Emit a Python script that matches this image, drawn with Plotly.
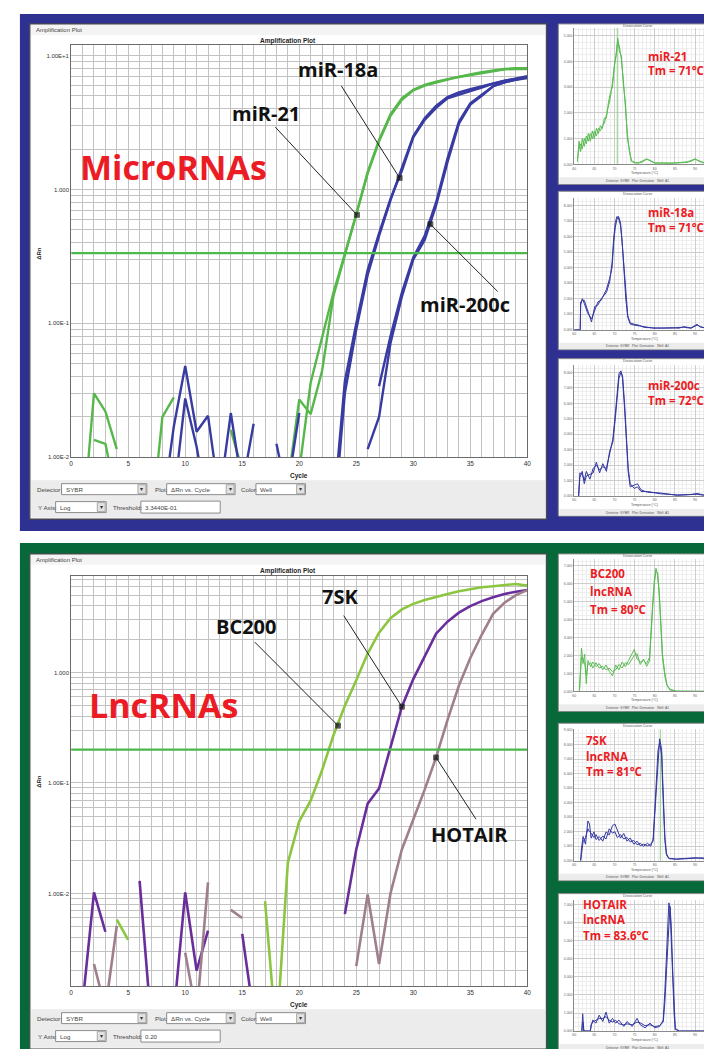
import plotly.graph_objects as go

W, H = 712, 1049
def px(x): return x / W
def py(y): return 1 - y / H

N = None
cycles = list(range(1, 41))

# ---------------- MicroRNA amplification data (delta Rn, log scale) ----------------
mir21_w1 = [0.003, 0.030, 0.022, 0.0115, N, N, 0.003, 0.020, 0.028, N,
            N, N, N, 0.016, 0.008, N, N, N, 0.0063, 0.027,
            0.021, 0.044, 0.16, 0.32, 0.63, 1.32, 2.29, 3.55, 4.68, 5.50,
            5.96, 6.31, 6.61, 6.92, 7.16, 7.41, 7.67, 7.89, 7.94, 7.94]
mir21_w2 = [N, 0.0135, 0.0126, 0.005, N, N, N, N, N, N,
            N, N, N, N, N, N, N, N, 0.0032, 0.0079,
            0.036, 0.079, 0.17, 0.33, 0.65, 1.35, 2.34, 3.63, 4.79, 5.56,
            6.03, 6.38, 6.68, 7.00, 7.24, 7.50, 7.76, 7.94, 8.04, 8.04]
mir18a_w1 = [N, N, N, N, N, N, N, 0.004, 0.017, 0.048,
             0.0155, 0.0204, 0.005, 0.0214, 0.006, 0.0178, N, N, N, N,
             N, N, 0.004, 0.037, 0.10, 0.25, 0.47, 0.85, 1.38, 2.45,
             3.31, 4.07, 4.79, 5.13, 5.43, 5.75, 6.17, 6.46, 6.76, 7.0]
mir18a_w2 = [N, N, N, N, N, N, N, N, 0.005, 0.0275,
             0.012, 0.004, N, N, N, N, N, N, N, N,
             N, N, 0.003, 0.03, 0.09, 0.23, 0.45, 0.83, 1.45, 2.5,
             3.4, 4.2, 4.9, 5.3, 5.6, 5.9, 6.2, 6.5, 6.7, 6.9]
mir200c_w1 = [N, N, N, N, N, N, N, N, N, N,
              N, N, N, N, N, N, N, 0.0126, 0.005, N,
              N, N, N, N, N, 0.0115, 0.02, 0.071, 0.158, 0.30,
              0.42, 0.76, 1.6, 3.1, 4.3, 5.0, 5.9, 6.3, 6.6, 6.8]
mir200c_w2 = [N, N, N, N, N, N, N, N, N, N,
              N, N, N, N, N, N, N, N, 0.006, 0.0214,
              N, N, N, N, N, N, 0.034, 0.08, 0.17, 0.31,
              0.45, 0.80, 1.7, 3.2, 4.4, 5.1, 5.9, 6.3, 6.6, 6.9]
threshold_mirna = 0.3344

# ---------------- LncRNA amplification data ----------------
bc200 = [N, N, N, 0.0058, 0.0038, N, N, N, N, N,
         N, N, N, N, N, N, 0.0085, 0.0005, 0.019, 0.045,
         0.069, 0.13, 0.27, 0.50, 0.85, 1.48, 2.29, 3.09, 3.72, 4.17,
         4.52, 4.84, 5.13, 5.43, 5.69, 5.89, 6.03, 6.17, 6.31, 6.10]
sk7 = [0.001, 0.0102, 0.0045, N, N, 0.013, 0.0007, N, 0.0008, 0.0102,
       0.002, 0.0046, N, N, 0.0043, 0.0008, N, N, N, N,
       N, N, N, 0.0065, 0.025, 0.065, 0.089, 0.21, 0.49, 0.87,
       1.41, 2.24, 2.88, 3.47, 3.98, 4.42, 4.79, 5.13, 5.37, 5.56]
hotair = [N, 0.0023, 0.0009, 0.0051, N, N, N, N, N, 0.0029,
          0.0008, 0.0126, N, 0.0071, 0.006, N, N, N, N, N,
          N, N, N, N, 0.0022, 0.0098, 0.0023, 0.01, 0.025, 0.046,
          0.087, 0.17, 0.37, 0.76, 1.35, 2.19, 3.39, 4.27, 5.01, 5.56]
threshold_lnc = 0.20

# leader lines: [label end, curve point]
lead_mir21 = ([17.9, 25.06], [2.92, 0.646])
lead_mir18a = ([23.7, 28.8], [5.92, 1.22])
lead_mir200c = ([37.4, 31.5], [0.173, 0.55])
lead_bc200 = ([16.1, 23.4], [1.88, 0.33])
lead_7sk = ([23.9, 29.0], [3.27, 0.49])
lead_hotair = ([35.5, 32.0], [0.047, 0.17])

# ---------------- melt (derivative) curves ----------------
t_mir21 = [60.8, 61.2, 61.6, 62.0, 62.5, 63.0, 63.5, 64.0, 64.5, 65.0, 65.5, 66.0, 66.5, 67.0, 67.5,
           68.0, 68.5, 69.0, 69.5, 70.0, 70.5, 70.8, 71.2, 71.7, 72.2, 72.7, 73.2, 73.7, 74.2, 75,
           76, 77, 78, 79, 80, 82, 84, 86, 88, 89, 90, 91, 92, 94, 95]
d_mir21_a = [0.1, 0.9, 0.5, 1.0, 0.7, 1.1, 0.9, 1.2, 1.0, 1.3, 1.1, 1.4, 1.3, 1.5, 1.6,
             1.9, 2.2, 2.6, 3.2, 3.8, 4.5, 4.8, 4.6, 4.1, 3.3, 2.2, 1.2, 0.5, 0.12, 0.06,
             0.05, 0.1, 0.2, 0.15, 0.06, 0.05, 0.05, 0.06, 0.08, 0.12, 0.2, 0.15, 0.08, 0.06, 0.05]
d_mir21_b = [0.2, 0.6, 0.8, 0.6, 1.0, 0.8, 1.2, 0.9, 1.3, 1.0, 1.4, 1.2, 1.5, 1.4, 1.8,
             1.8, 2.4, 2.8, 3.0, 3.9, 4.3, 4.9, 4.4, 4.2, 3.1, 2.4, 1.0, 0.6, 0.15, 0.08,
             0.07, 0.14, 0.22, 0.12, 0.05, 0.06, 0.04, 0.07, 0.1, 0.15, 0.22, 0.12, 0.06, 0.05, 0.04]
t_mir18a = [60, 61.5, 61.6, 62.0, 62.5, 63.3, 64.3, 65.1, 65.9, 66.7, 68.0, 68.8, 69.4, 69.8, 70.2,
            70.6, 71.0, 71.5, 71.9, 72.3, 72.8, 73.3, 73.9, 74.9, 76, 77.4, 79.8, 82, 83.9, 86,
            87.2, 89, 90.5, 91.3, 93, 95]
d_mir18a_a = [0, 0, 1.8, 1.9, 1.9, 1.3, 0.5, 1.5, 1.6, 2.0, 2.4, 3.1, 4.3, 5.9, 6.9,
              7.3, 7.2, 6.7, 5.7, 4.1, 2.0, 0.8, 0.37, 0.3, 0.25, 0.2, 0.1, 0.12, 0.1, 0.15,
              0.16, 0.1, 0.3, 0.2, 0.08, 0.05]
d_mir18a_b = [0, 0, 1.6, 2.0, 1.7, 1.1, 0.7, 1.3, 1.8, 1.9, 2.6, 3.3, 4.0, 5.6, 6.6,
              7.1, 7.3, 6.9, 5.5, 3.8, 2.2, 0.9, 0.45, 0.35, 0.3, 0.15, 0.12, 0.1, 0.14, 0.1,
              0.2, 0.12, 0.35, 0.18, 0.1, 0.06]
t_mir200c = [61.1, 61.4, 62.0, 62.5, 63.0, 63.9, 64.7, 65.5, 66.3, 67.1, 68.0, 68.8, 69.6, 70.2, 70.7,
             71.1, 71.6, 72.0, 72.5, 73.0, 73.4, 73.9, 74.9, 75.7, 76.6, 78.2, 81.5, 85.6, 88.9, 90.5,
             92.1, 95]
d_mir200c_a = [0, 1.5, 1.4, 1.0, 1.6, 1.1, 1.8, 2.0, 1.7, 1.9, 1.8, 2.7, 3.7, 5.3, 7.0,
               7.9, 8.1, 7.6, 5.7, 3.7, 1.6, 0.6, 0.7, 0.8, 0.4, 0.25, 0.2, 0.05, 0.1, 0.17,
               0.08, 0.05]
d_mir200c_b = [0, 1.2, 1.6, 0.8, 1.3, 1.4, 1.5, 2.2, 1.5, 2.1, 1.6, 2.9, 3.5, 5.0, 6.6,
               7.6, 8.0, 7.8, 6.0, 3.4, 1.8, 0.8, 0.5, 0.6, 0.3, 0.3, 0.15, 0.08, 0.12, 0.12,
               0.06, 0.04]
t_bc200 = [61.3, 61.4, 61.8, 62.2, 62.6, 63.0, 63.4, 64.1, 64.6, 65.4, 66.2, 67.1, 67.9, 68.7, 69.5,
           70.3, 71.1, 71.9, 72.7, 73.5, 74.4, 74.9, 75.6, 76.4, 77.2, 78.0, 78.7, 79.0, 79.5, 79.9,
           80.3, 80.7, 81.1, 81.5, 81.9, 82.5, 83.0, 83.7, 85.3, 95]
d_bc200_a = [0, 0.43, 2.4, 1.55, 2.07, 0.43, 1.72, 1.38, 1.64, 1.38, 1.55, 1.2, 1.47, 1.12, 0.86,
             1.47, 1.2, 1.64, 1.38, 1.72, 2.07, 2.33, 1.81, 1.64, 1.72, 1.55, 1.9, 3.28, 5.0, 6.2,
             6.86, 6.47, 5.34, 3.62, 1.9, 0.86, 0.34, 0.09, 0, 0]
d_bc200_b = [0, 0.3, 1.9, 1.8, 1.6, 0.9, 1.5, 1.6, 1.3, 1.6, 1.3, 1.4, 1.2, 1.3, 1.1,
             1.2, 1.5, 1.3, 1.6, 1.5, 1.8, 2.0, 2.1, 1.5, 1.8, 1.4, 1.7, 3.0, 4.7, 6.0,
             6.7, 6.6, 5.6, 3.9, 2.1, 1.0, 0.4, 0.12, 0.02, 0]
t_7sk = [61.6, 61.8, 62.2, 62.8, 63.4, 63.8, 64.2, 64.9, 65.4, 66.2, 67.1, 67.9, 68.7, 69.5, 70.1,
         70.7, 71.5, 72.3, 73.1, 73.9, 74.8, 75.6, 76.4, 77.2, 78.2, 79.0, 79.6, 80.0, 80.4, 80.8,
         81.2, 81.7, 81.9, 82.2, 82.5, 82.9, 83.5, 85.3, 90.2, 91.8, 94.7]
d_7sk_a = [0, 0.81, 1.67, 1.14, 2.74, 2.53, 1.56, 1.99, 1.46, 1.67, 1.35, 1.99, 1.78, 2.42, 2.53,
           2.1, 1.56, 1.88, 1.35, 1.56, 1.14, 1.35, 1.03, 1.14, 1.03, 1.14, 1.35, 3.17, 5.1, 7.24,
           8.4, 7.67, 5.96, 3.81, 1.67, 0.49, 0.17, 0.12, 0.21, 0.15, 0.1]
d_7sk_b = [0, 0.5, 1.3, 1.6, 2.2, 2.0, 1.9, 1.6, 1.8, 1.4, 1.7, 1.5, 2.2, 1.9, 2.0,
           1.6, 1.8, 1.5, 1.6, 1.3, 1.4, 1.1, 1.2, 1.0, 1.2, 1.0, 1.5, 3.5, 5.6, 7.6,
           8.1, 7.3, 5.5, 3.4, 1.4, 0.4, 0.15, 0.1, 0.15, 0.2, 0.08]
t_hotair = [61.9, 62.1, 62.4, 64.0, 64.2, 64.6, 65.4, 66.2, 67.1, 67.9, 68.7, 69.5, 70.3, 71.1, 72.3,
            73.1, 74.4, 75.6, 76.4, 77.6, 78.8, 80.0, 81.2, 82.1, 82.5, 82.9, 83.3, 83.5, 83.8, 84.1,
            84.5, 84.8, 85.1, 86.1, 94.7]
d_hotair_a = [0, 0.96, 0, 0, 0.26, 0.61, 0.44, 0.88, 0.53, 1.05, 0.44, 0.7, 0.44, 0.61, 0.26,
              0.53, 0.26, 0.7, 0.35, 0.18, 0.44, 0.18, 0.26, 0.61, 2.19, 4.47, 6.4, 7.1, 6.75, 5.35,
              2.72, 0.96, 0.09, 0, 0]
d_hotair_b = [0, 0.5, 0, 0, 0.35, 0.5, 0.6, 0.7, 0.7, 0.8, 0.6, 0.5, 0.6, 0.4, 0.35,
              0.4, 0.35, 0.5, 0.45, 0.3, 0.35, 0.25, 0.3, 0.5, 1.6, 3.6, 5.5, 5.8, 6.9, 5.8,
              3.1, 1.2, 0.15, 0, 0]
tm_line_mir21 = 70.7
tm_line_7sk = 81.4
melt_temp_ticks = [60, 65, 70, 75, 80, 85, 90]

# ---------------- styling ----------------
GREEN = "#56b84a"
BLUE = "#383ba2"
LGREEN = "#8cc640"
PURPLE = "#6a2e9c"
MAUVE = "#9f7e8d"
THRESH = "#4bb84a"
MELT_GREEN = "#5cbb55"
MELT_BLUE = "#34389f"
RED = "#ec1c24"
UI = "Liberation Sans"

fig = go.Figure()

def line(x, y, xa, ya, color, width):
    fig.add_trace(go.Scatter(x=x, y=y, xaxis=xa, yaxis=ya, mode="lines",
                             line=dict(color=color, width=width), connectgaps=False,
                             hoverinfo="skip", showlegend=False))

def leader(pair, xa, ya):
    fig.add_trace(go.Scatter(x=pair[0], y=pair[1], xaxis=xa, yaxis=ya, mode="lines+markers",
                             line=dict(color="#222222", width=1),
                             marker=dict(size=[0, 5], symbol="square", color="#111111"),
                             hoverinfo="skip", showlegend=False))

# top amplification plot
for yv, c in [(mir21_w1, GREEN), (mir21_w2, GREEN), (mir18a_w1, BLUE), (mir18a_w2, BLUE),
              (mir200c_w1, BLUE), (mir200c_w2, BLUE)]:
    line(cycles, yv, "x", "y", c, 2.4)
line([0, 40], [threshold_mirna, threshold_mirna], "x", "y", THRESH, 2.2)
for p in [lead_mir21, lead_mir18a, lead_mir200c]:
    leader(p, "x", "y")

# bottom amplification plot
for yv, c in [(bc200, LGREEN), (sk7, PURPLE), (hotair, MAUVE)]:
    line(cycles, yv, "x2", "y2", c, 2.6)
line([0, 40], [threshold_lnc, threshold_lnc], "x2", "y2", THRESH, 2.2)
for p in [lead_bc200, lead_7sk, lead_hotair]:
    leader(p, "x2", "y2")

# melt plots
melts = [
    (t_mir21, [d_mir21_a, d_mir21_b], MELT_GREEN, 5.3),
    (t_mir18a, [d_mir18a_a, d_mir18a_b], MELT_BLUE, 8.47),
    (t_mir200c, [d_mir200c_a, d_mir200c_b], MELT_BLUE, 8.5),
    (t_bc200, [d_bc200_a, d_bc200_b], MELT_GREEN, 7.38),
    (t_7sk, [d_7sk_a, d_7sk_b], MELT_BLUE, 9.06),
    (t_hotair, [d_hotair_a, d_hotair_b], MELT_BLUE, 7.28),
]
line([tm_line_mir21, tm_line_mir21], [0, 5.3], "x3", "y3", "#9fd89a", 1.2)
line([tm_line_7sk, tm_line_7sk], [0, 9.06], "x7", "y7", "#9fd89a", 1.2)
for i, (t, reps, col, top) in enumerate(melts):
    for r in reps:
        line(t, r, "x%d" % (i + 3), "y%d" % (i + 3), col, 1.0)

# ---------------- axes ----------------
def log_ticks(lo, hi, labels):
    vals, texts = [], []
    for e in range(-3, 2):
        for m in range(1, 10):
            v = m * 10.0 ** e
            if lo <= v <= hi:
                vals.append(v)
                texts.append(labels.get(e, "") if m == 1 else "")
    return vals, texts

cyc_ticks = list(range(0, 41))
cyc_text = [str(c) if c % 5 == 0 else "" for c in cyc_ticks]
tv1, tt1 = log_ticks(0.01, 11.9, {-2: "1.00E-2", -1: "1.00E-1", 0: "1.000", 1: "1.00E+1"})
tv2, tt2 = log_ticks(0.00145, 7.5, {-2: "1.00E-2", -1: "1.00E-1", 0: "1.000"})

GRID = "#c2c2c2"
def main_x(anchor, dom):
    return dict(domain=dom, range=[0, 40], anchor=anchor, tickvals=cyc_ticks, ticktext=cyc_text,
                showgrid=True, gridcolor=GRID, gridwidth=1, showline=True, linecolor="#6a6a6a",
                mirror=True, ticks="", zeroline=False, fixedrange=True,
                tickfont=dict(size=6.5, color="#333", family=UI))
def main_y(anchor, dom, rng, tv, tt):
    return dict(domain=dom, type="log", range=rng, anchor=anchor, tickvals=tv, ticktext=tt,
                showgrid=True, gridcolor=GRID, gridwidth=1, showline=True, linecolor="#6a6a6a",
                mirror=True, ticks="", zeroline=False, fixedrange=True,
                tickfont=dict(size=6, color="#333", family=UI))

lay = dict(
    xaxis=main_x("y", [px(61.7), px(521.7)]),
    yaxis=main_y("x", [py(450), py(36.5)], [-2, 1.076], tv1, tt1),
    xaxis2=main_x("y2", [px(61.7), px(521.7)]),
    yaxis2=main_y("x2", [py(981), py(569)], [-2.84, 0.874], tv2, tt2),
)
# melt windows (top, bottom) and plot areas (bottom, top) in pixels
melt_windows = [(15, 176), (183, 342), (351, 509), (547, 705), (717, 875), (888, 1046)]
melt_dom = [(156, 19), (322, 190), (489, 357), (685, 552), (855, 723), (1026, 894)]
for i, (b, t) in enumerate(melt_dom):
    k = i + 3
    lay["xaxis%d" % k] = dict(domain=[px(569), 1.0], range=[60, 95.2], anchor="y%d" % k,
                              tickvals=melt_temp_ticks, showgrid=True, gridcolor="#cdcdcd",
                              minor=dict(dtick=1, tick0=60, showgrid=True, gridcolor="#ececec"),
                              showline=True, linecolor="#8a8a8a", ticks="", zeroline=False,
                              tickfont=dict(size=3.5, color="#666", family=UI), fixedrange=True)
    lay["yaxis%d" % k] = dict(domain=[py(b), py(t)], range=[0, melts[i][3]], anchor="x%d" % k,
                              dtick=1, showgrid=True, gridcolor="#cdcdcd",
                              minor=dict(dtick=0.25, showgrid=True, gridcolor="#eeeeee"),
                              showline=True, linecolor="#8a8a8a", ticks="", zeroline=False,
                              tickformat=".3f", tickfont=dict(size=3.5, color="#666", family=UI),
                              fixedrange=True)

# ---------------- shapes (frames, windows, controls) ----------------
shapes = []
def rect(x0, y0, x1, y1, fill, lc=None, lw=0):
    shapes.append(dict(type="rect", xref="paper", yref="paper", x0=px(x0), x1=px(x1),
                       y0=py(y1), y1=py(y0), fillcolor=fill,
                       line=dict(color=lc or fill, width=lw), layer="below"))

rect(10, 5, 712, 524, "#2e3192")
rect(10, 536, 712, 1049, "#07693a")

def main_window(y0, y1, ctrl_y):
    rect(20, y0, 541, y1, "#f4f4f4", "#4a4a4a", 1.2)
    rect(21.5, y0 + 11, 539.5, ctrl_y, "#ffffff")
    rect(21.5, ctrl_y, 539.5, y1 - 1.5, "#ececec")
main_window(15, 512, 473)
main_window(547, 1044, 1004)

for (a, b) in melt_windows:
    rect(553, a, 713, b, "#ffffff", "#8a8a8a", 1)
    rect(554, b - 7, 713, b - 0.5, "#ececec")

annotations = []
def txt(x, y, s, size, color="#333", anchor="left", family=UI, angle=0):
    annotations.append(dict(x=px(x), y=py(y), xref="paper", yref="paper", text=s, showarrow=False,
                            xanchor=anchor, yanchor="middle",
                            font=dict(size=size, color=color, family=family), textangle=angle))

def dropdown(x0, x1, yc, label):
    rect(x0, yc - 5.5, x1, yc + 5.5, "#ffffff", "#8c8c8c", 1)
    rect(x1 - 9, yc - 4.5, x1 - 1, yc + 4.5, "#e2e2e2", "#9a9a9a", 0.8)
    txt(x0 + 2, yc, label, 6.2, "#444")
    txt(x1 - 5, yc, "▾", 6, "#333", "center")

def controls(r1, r2, thr):
    txt(25, r1, "Detector:", 6.2, "#444")
    dropdown(52, 138, r1, "SYBR")
    txt(144, r1, "Plot:", 6.2, "#444")
    dropdown(158, 227, r1, "ΔRn vs. Cycle")
    txt(231, r1, "Color:", 6.2, "#444")
    dropdown(248, 298, r1, "Well")
    txt(26, r2, "Y Axis:", 6.2, "#444")
    dropdown(46, 97, r2, "Log")
    txt(102, r2, "Threshold:", 6.2, "#444")
    rect(132, r2 - 6, 212, r2 + 6, "#ffffff", "#8c8c8c", 1)
    txt(134, r2, thr, 6.2, "#444")

# top window text
txt(24, 21, "Amplification Plot", 6, "#444")
txt(280, 32, "<b>Amplification Plot</b>", 6.5, "#222", "center")
txt(29, 245, "<b>ΔRn</b>", 6, "#222", "center", angle=-90)
txt(291, 469, "<b>Cycle</b>", 6.5, "#222", "center")
controls(482, 500, "3.3440E-01")
# bottom window text
txt(24, 553, "Amplification Plot", 6, "#444")
txt(280, 564, "<b>Amplification Plot</b>", 6.5, "#222", "center")
txt(29, 775, "<b>ΔRn</b>", 6, "#222", "center", angle=-90)
txt(291, 1000, "<b>Cycle</b>", 6.5, "#222", "center")
controls(1013, 1031, "0.20")

# big labels
txt(165, 159, "<b>MicroRNAs</b>", 34, RED, "center", family="Open Sans")
txt(331, 61, "<b>miR-18a</b>", 20, "#111", "center", family="Open Sans")
txt(258, 105, "<b>miR-21</b>", 20, "#111", "center", family="Open Sans")
txt(459, 297, "<b>miR-200c</b>", 20, "#111", "center", family="Open Sans")
txt(155, 699, "<b>LncRNAs</b>", 34, RED, "center", family="Open Sans")
txt(333, 590, "<b>7SK</b>", 20, "#111", "center", family="Open Sans")
txt(239, 620, "<b>BC200</b>", 20, "#111", "center", family="Open Sans")
txt(463, 829, "<b>HOTAIR</b>", 20, "#111", "center", family="Open Sans")

# melt window texts
for (a, b) in melt_windows:
    txt(633, a + 2.5, "Dissociation Curve", 3.5, "#555", "center")
    txt(640, b - 11, "Temperature (°C)", 3.5, "#555", "center")
    txt(633, b - 3.5, "Detector: SYBR   Plot: Derivative   Well: A1", 3.3, "#555", "center")

def red_block(x, ys, lines):
    for y, s in zip(ys, lines):
        txt(x, y, "<b>%s</b>" % s, 11.5, RED, "left", family="Open Sans")

red_block(641, [48, 62], ["miR-21", "Tm = 71°C"])
red_block(641, [204, 219], ["miR-18a", "Tm = 71°C"])
red_block(641, [378, 393], ["miR-200c", "Tm = 72°C"])
red_block(583, [567, 585, 603], ["BC200", "lncRNA", "Tm = 80°C"])
red_block(579, [734, 750, 765], ["7SK", "lncRNA", "Tm = 81°C"])
red_block(576, [899, 914, 930], ["HOTAIR", "lncRNA", "Tm = 83.6°C"])

fig.update_layout(width=W, height=H, margin=dict(l=0, r=0, t=0, b=0),
                  paper_bgcolor="#ffffff", plot_bgcolor="#ffffff", showlegend=False,
                  shapes=shapes, annotations=annotations, **lay)

fig.write_html("out.html")
